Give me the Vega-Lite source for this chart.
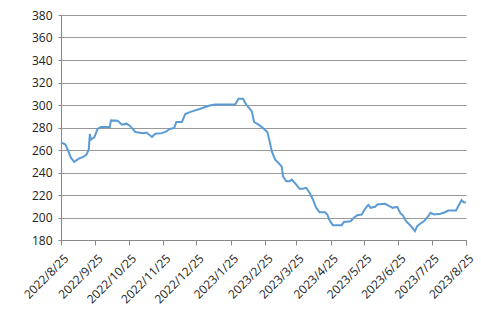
{
  "$schema": "https://vega.github.io/schema/vega-lite/v6.json",
  "width": 405,
  "height": 225,
  "autosize": {"type": "none"},
  "padding": {"left": 61, "top": 15, "right": 15, "bottom": 79},
  "background": "white",
  "config": {"view": {"stroke": null}, "font": "Open Sans"},
  "data": {
    "values": [
      {"date": "2022-08-25", "price": 266.8},
      {"date": "2022-08-29", "price": 264.8},
      {"date": "2022-08-31", "price": 260.3},
      {"date": "2022-09-03", "price": 253.0},
      {"date": "2022-09-06", "price": 249.4},
      {"date": "2022-09-10", "price": 252.3},
      {"date": "2022-09-14", "price": 253.8},
      {"date": "2022-09-17", "price": 255.9},
      {"date": "2022-09-19", "price": 260.3},
      {"date": "2022-09-20", "price": 274.2},
      {"date": "2022-09-21", "price": 269.2},
      {"date": "2022-09-24", "price": 271.3},
      {"date": "2022-09-27", "price": 278.7},
      {"date": "2022-09-30", "price": 280.4},
      {"date": "2022-10-08", "price": 280.4},
      {"date": "2022-10-09", "price": 286.3},
      {"date": "2022-10-15", "price": 286.0},
      {"date": "2022-10-19", "price": 282.5},
      {"date": "2022-10-23", "price": 283.4},
      {"date": "2022-10-26", "price": 281.6},
      {"date": "2022-10-31", "price": 276.0},
      {"date": "2022-11-07", "price": 275.0},
      {"date": "2022-11-10", "price": 275.6},
      {"date": "2022-11-15", "price": 271.6},
      {"date": "2022-11-18", "price": 274.5},
      {"date": "2022-11-24", "price": 275.0},
      {"date": "2022-11-28", "price": 276.5},
      {"date": "2022-12-01", "price": 278.7},
      {"date": "2022-12-05", "price": 279.6},
      {"date": "2022-12-07", "price": 284.9},
      {"date": "2022-12-12", "price": 284.9},
      {"date": "2022-12-15", "price": 292.0},
      {"date": "2022-12-19", "price": 293.7},
      {"date": "2022-12-24", "price": 295.2},
      {"date": "2022-12-28", "price": 296.4},
      {"date": "2023-01-02", "price": 298.2},
      {"date": "2023-01-06", "price": 299.6},
      {"date": "2023-01-11", "price": 300.5},
      {"date": "2023-01-29", "price": 300.5},
      {"date": "2023-02-01", "price": 305.5},
      {"date": "2023-02-05", "price": 305.5},
      {"date": "2023-02-08", "price": 300.2},
      {"date": "2023-02-11", "price": 296.7},
      {"date": "2023-02-13", "price": 294.3},
      {"date": "2023-02-15", "price": 284.9},
      {"date": "2023-02-19", "price": 282.5},
      {"date": "2023-02-23", "price": 279.6},
      {"date": "2023-02-27", "price": 276.0},
      {"date": "2023-03-01", "price": 267.7},
      {"date": "2023-03-03", "price": 258.8},
      {"date": "2023-03-06", "price": 251.4},
      {"date": "2023-03-09", "price": 248.5},
      {"date": "2023-03-12", "price": 244.9},
      {"date": "2023-03-13", "price": 236.7},
      {"date": "2023-03-16", "price": 232.2},
      {"date": "2023-03-19", "price": 232.2},
      {"date": "2023-03-21", "price": 233.7},
      {"date": "2023-03-25", "price": 229.3},
      {"date": "2023-03-28", "price": 225.5},
      {"date": "2023-03-31", "price": 225.5},
      {"date": "2023-04-03", "price": 226.4},
      {"date": "2023-04-06", "price": 222.0},
      {"date": "2023-04-09", "price": 216.0},
      {"date": "2023-04-12", "price": 208.6},
      {"date": "2023-04-15", "price": 204.7},
      {"date": "2023-04-20", "price": 204.7},
      {"date": "2023-04-22", "price": 202.7},
      {"date": "2023-04-24", "price": 197.6},
      {"date": "2023-04-27", "price": 193.2},
      {"date": "2023-05-05", "price": 193.2},
      {"date": "2023-05-07", "price": 196.1},
      {"date": "2023-05-13", "price": 196.7},
      {"date": "2023-05-16", "price": 199.8},
      {"date": "2023-05-19", "price": 202.1},
      {"date": "2023-05-23", "price": 202.7},
      {"date": "2023-05-26", "price": 207.8},
      {"date": "2023-05-29", "price": 211.2},
      {"date": "2023-05-31", "price": 208.6},
      {"date": "2023-06-04", "price": 209.5},
      {"date": "2023-06-06", "price": 211.6},
      {"date": "2023-06-13", "price": 212.2},
      {"date": "2023-06-17", "price": 210.1},
      {"date": "2023-06-20", "price": 208.6},
      {"date": "2023-06-24", "price": 209.5},
      {"date": "2023-06-27", "price": 203.6},
      {"date": "2023-06-29", "price": 202.1},
      {"date": "2023-07-02", "price": 196.7},
      {"date": "2023-07-05", "price": 193.8},
      {"date": "2023-07-08", "price": 190.3},
      {"date": "2023-07-10", "price": 187.9},
      {"date": "2023-07-12", "price": 192.3},
      {"date": "2023-07-15", "price": 194.7},
      {"date": "2023-07-18", "price": 196.7},
      {"date": "2023-07-21", "price": 199.8},
      {"date": "2023-07-24", "price": 204.2},
      {"date": "2023-07-27", "price": 202.7},
      {"date": "2023-08-02", "price": 203.3},
      {"date": "2023-08-06", "price": 204.7},
      {"date": "2023-08-09", "price": 206.2},
      {"date": "2023-08-16", "price": 206.2},
      {"date": "2023-08-18", "price": 210.1},
      {"date": "2023-08-21", "price": 215.4},
      {"date": "2023-08-23", "price": 213.6},
      {"date": "2023-08-25", "price": 213.3}
    ],
    "format": {"parse": {"date": "date:'%Y-%m-%d'"}}
  },
  "mark": {"type": "line", "color": "#5B9BD5", "strokeWidth": 2, "interpolate": "linear"},
  "encoding": {
    "x": {
      "field": "date",
      "type": "temporal",
      "title": null,
      "scale": {"domain": [{"year": 2022, "month": 8, "date": 25}, {"year": 2023, "month": 8, "date": 25}], "nice": false},
      "axis": {
        "values": [
          {"year": 2022, "month": 8, "date": 25},
          {"year": 2022, "month": 9, "date": 25},
          {"year": 2022, "month": 10, "date": 25},
          {"year": 2022, "month": 11, "date": 25},
          {"year": 2022, "month": 12, "date": 25},
          {"year": 2023, "month": 1, "date": 25},
          {"year": 2023, "month": 2, "date": 25},
          {"year": 2023, "month": 3, "date": 25},
          {"year": 2023, "month": 4, "date": 25},
          {"year": 2023, "month": 5, "date": 25},
          {"year": 2023, "month": 6, "date": 25},
          {"year": 2023, "month": 7, "date": 25},
          {"year": 2023, "month": 8, "date": 25}
        ],
        "format": "%Y/%-m/%-d",
        "labelAngle": -45,
        "labelAlign": "right",
        "labelBaseline": "middle",
        "labelPadding": 11,
        "labelOffset": 5,
        "labelFontSize": 12,
        "labelColor": "#222",
        "labelFont": "Open Sans",
        "labelOverlap": false,
        "labelBound": false,
        "labelFlush": false,
        "grid": false,
        "domainColor": "#888",
        "domainWidth": 1,
        "tickColor": "#888",
        "tickSize": 5
      }
    },
    "y": {
      "field": "price",
      "type": "quantitative",
      "title": null,
      "scale": {"domain": [180, 380], "nice": false, "zero": false},
      "axis": {
        "values": [180, 200, 220, 240, 260, 280, 300, 320, 340, 360, 380],
        "labelFontSize": 12,
        "labelColor": "#222",
        "labelFont": "Open Sans",
        "labelPadding": 6,
        "tickSize": 3,
        "tickColor": "#888",
        "domainColor": "#888",
        "gridColor": "#999",
        "gridWidth": 1,
        "gridOpacity": 1
      }
    }
  }
}
